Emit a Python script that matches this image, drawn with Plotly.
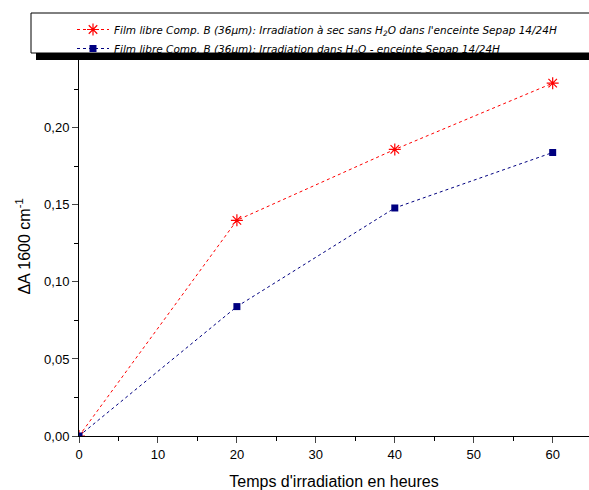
import plotly.graph_objects as go

hours = [0, 20, 40, 60]
dry = [0.0, 0.14, 0.186, 0.229]
water = [0.0, 0.084, 0.148, 0.184]
name_dry = "Film libre Comp. B (36µm): Irradiation à sec sans H<sub>2</sub>O dans l'enceinte Sepap 14/24H"
name_water = "Film libre Comp. B (36µm): Irradiation dans H<sub>2</sub>O - enceinte Sepap 14/24H"
x_ticks = [0, 10, 20, 30, 40, 50, 60]
y_ticks = [0.0, 0.05, 0.10, 0.15, 0.20]

W, H = 589, 490
L, R, T, B = 79, 589, 57, 436

def px2paper(x, y):
    return (x - L) / (R - L), (B - y) / (B - T)

fig = go.Figure()
fig.add_trace(go.Scatter(x=hours, y=dry, name=name_dry, mode="lines+markers",
                         line=dict(color="#FF0000", width=1, dash="dot"),
                         marker=dict(symbol="asterisk-open", size=10, color="#FF0000",
                                     line=dict(color="#FF0000", width=1.2))))
fig.add_trace(go.Scatter(x=hours, y=water, name=name_water, mode="lines+markers",
                         line=dict(color="#000080", width=1, dash="dot"),
                         marker=dict(symbol="square", size=7, color="#000080")))

x0, y0 = px2paper(36, 60)
x1, y1 = px2paper(640, 18)
fig.add_shape(type="rect", xref="paper", yref="paper", x0=x0, y0=y0, x1=x1, y1=y1,
              fillcolor="black", line=dict(width=0), layer="above")
x0, y0 = px2paper(31, 53)
x1, y1 = px2paper(640, 13)
fig.add_shape(type="rect", xref="paper", yref="paper", x0=x0, y0=y0, x1=x1, y1=y1,
              fillcolor="white", line=dict(color="black", width=1), layer="above")

lx, ly = px2paper(72, 15)
fig.update_layout(
    width=W, height=H,
    margin=dict(l=L, r=W - R, t=T, b=H - B, pad=0, autoexpand=False),
    paper_bgcolor="white", plot_bgcolor="white",
    separators=", ",
    font=dict(family="Liberation Sans, Arial", size=13, color="black"),
    showlegend=True,
    legend=dict(x=lx, y=ly, xanchor="left", yanchor="top", bgcolor="rgba(0,0,0,0)",
                borderwidth=0, itemwidth=32,
                font=dict(family="DejaVu Sans", size=10.5, style="italic", color="black")),
    xaxis=dict(range=[0, 64.6], tickvals=x_ticks, ticks="outside", ticklen=6, tickwidth=1,
               showline=True, linecolor="black", linewidth=1, showgrid=False, zeroline=False,
               automargin=False,
               minor=dict(ticks="outside", ticklen=4, dtick=5, tick0=0, tickcolor="black"),
               title=dict(text="Temps d'irradiation en heures", font=dict(size=16), standoff=19)),
    yaxis=dict(range=[0, 0.246], tickvals=y_ticks, tickformat=".2f", ticks="outside", ticklen=6,
               tickwidth=1, showline=True, linecolor="black", linewidth=1, showgrid=False,
               zeroline=False, automargin=False,
               minor=dict(ticks="outside", ticklen=4, dtick=0.025, tick0=0, tickcolor="black"),
               title=dict(text="ΔA 1600 cm<sup>-1</sup>", font=dict(size=16), standoff=9)),
)
fig.write_html("out.html", config={"displayModeBar": False},
               post_script="document.body.style.margin='0';document.body.style.overflow='hidden';")
